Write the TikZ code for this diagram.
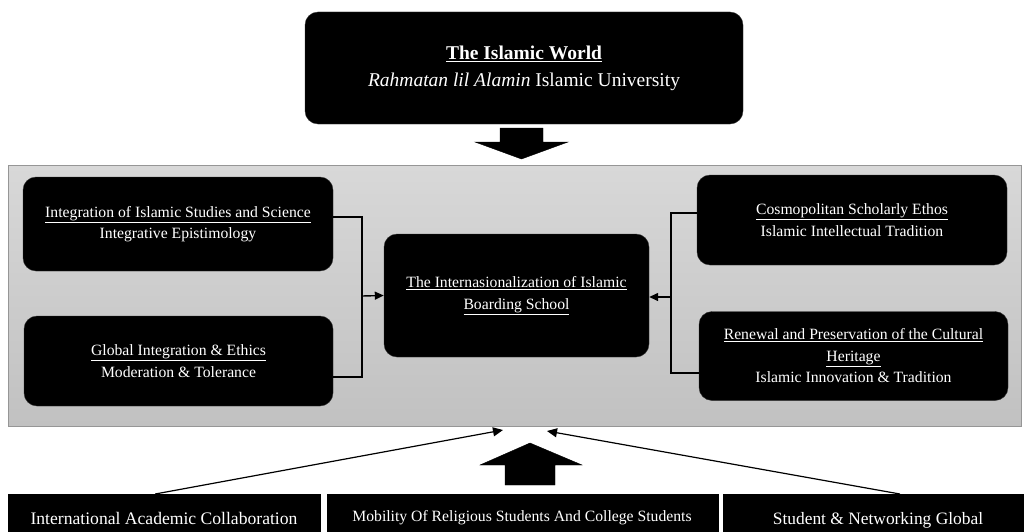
\documentclass[tikz,border=0pt]{standalone}
\usepackage{fontspec}
\setmainfont{Liberation Serif}
\usetikzlibrary{arrows.meta,calc}
\begin{document}
\begin{tikzpicture}[x=1pt,y=-1pt,
  blackbox/.style={fill=black,draw=black!80,rounded corners=13pt,text=white,align=center,inner sep=0pt},
  flatbox/.style={fill=black,draw=black,text=white,align=center,inner sep=0pt},
  conn/.style={draw=black,line width=1.4pt},
  arr/.style={draw=black,line width=1.4pt,-{Triangle[length=9pt,width=8pt]}},
  fat/.style={fill=black,draw=black},
  midtxt/.style={font=\fontsize{15.7}{21.5}\selectfont},
]
\useasboundingbox (0,0) rectangle (1024,532);
% panel
\path[top color={rgb,255:red,216;green,216;blue,216},bottom color={rgb,255:red,193;green,193;blue,193},draw={rgb,255:red,150;green,150;blue,150},line width=0.8pt] (8,165) rectangle (1021,426);
% top box
\node[blackbox,minimum width=438pt,minimum height=112pt,font=\fontsize{19.5}{27}\selectfont] (top) at (524,68) {\textbf{\underline{The Islamic World}}\\\textit{Rahmatan lil Alamin} Islamic University};
% down fat arrow
\path[fat] (500,128) -- (543,128) -- (543,142) -- (568,142) -- (521.5,159) -- (475,142) -- (500,142) -- cycle;
% left boxes
\node[blackbox,midtxt,minimum width=310pt,minimum height=94pt] (lt) at (178,224) {\underline{Integration of Islamic Studies and Science}\\Integrative Epistimology};
\node[blackbox,midtxt,minimum width=309pt,minimum height=90pt] (lb) at (178.5,361) {\underline{Global Integration \& Ethics}\\Moderation \& Tolerance};
% central box
\node[blackbox,midtxt,minimum width=265pt,minimum height=123pt] (cb) at (516.5,295.5) {\underline{The Internasionalization of Islamic}\\\underline{Boarding School}};
% right boxes
\node[blackbox,midtxt,minimum width=310pt,minimum height=90pt] (rt) at (852,220) {\underline{Cosmopolitan Scholarly Ethos}\\Islamic Intellectual Tradition};
\node[blackbox,midtxt,minimum width=309pt,minimum height=89pt] (rb) at (853.5,356) {\underline{Renewal and Preservation of the Cultural}\\\underline{Heritage}\\Islamic Innovation \& Tradition};
% connectors left
\coordinate (jl) at (362,296);
\draw[conn] ([yshift=7pt]lt.east) -| (jl) |- ([yshift=-16pt]lb.east);
\draw[arr] (jl) -- (cb.west);
% connectors right
\coordinate (jr) at (671,297);
\draw[conn] ([yshift=7pt]rt.west) -| (jr) |- ([yshift=-17pt]rb.west);
\draw[arr] (jr) -- (cb.east |- jr);
% bottom boxes
\node[flatbox,minimum width=312pt,minimum height=46pt,anchor=north west] (bl) at (8,494) {};
\node[flatbox,minimum width=391pt,minimum height=46pt,anchor=north west] (bm) at (327,494) {};
\node[flatbox,minimum width=310pt,minimum height=46pt,anchor=north west] (br) at (723,494) {};
\node[text=white,font=\fontsize{17.6}{20}\selectfont] (blt) at (164,518) {International Academic Collaboration};
\node[text=white,font=\fontsize{15.7}{18}\selectfont] (bmt) at (522,518) {Mobility Of Religious Students And College Students};
\node[text=white,font=\fontsize{17.4}{20}\selectfont] (brt) at (878,520) {Student \& Networking Global};
% up fat arrow
\path[fat] (505,485) -- (555,485) -- (555,465) -- (582,465) -- (530,443) -- (480,465) -- (505,465) -- cycle;
% thin arrows
\coordinate (pl) at (503,430);
\coordinate (pr) at (547,431);
\draw[line width=1.2pt,-{Triangle[length=10pt,width=9pt]}] ($(bl.north west)!0.471!(bl.north east)$) -- (pl);
\draw[line width=1.2pt,-{Triangle[length=10pt,width=9pt]}] ($(br.north west)!0.57!(br.north east)$) -- (pr);
\end{tikzpicture}
\end{document}
